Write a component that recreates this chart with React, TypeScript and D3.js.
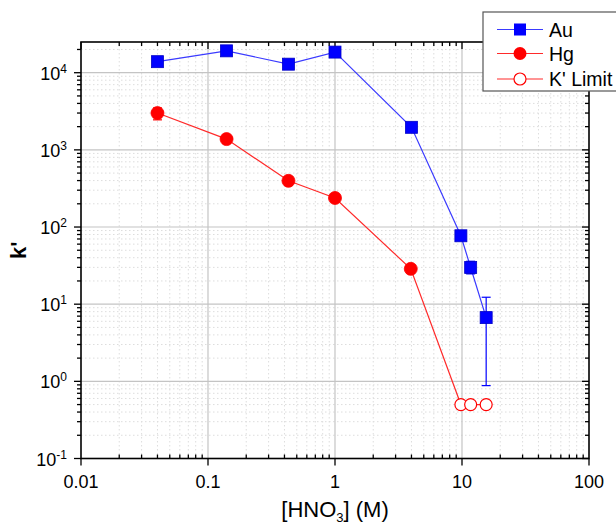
import React from "react";
import * as d3 from "d3";

// [HNO3] (M) concentrations
const auX = [0.04, 0.14, 0.43, 1.0, 4.0, 9.8, 11.7, 15.5];
const auK = [13900, 19200, 12900, 18500, 1960, 77, 29.9, 6.7];
// error bars (low, high) by index, only where visible
const auErr: [number, number, number][] = [
  [6, 24.7, 36],
  [7, 0.88, 12.3],
];

const hgX = [0.04, 0.14, 0.43, 1.0, 3.95];
const hgK = [3000, 1380, 397, 238, 28.7];
const hgErr: [number, number, number][] = [[0, 2450, 3500]];

const limX = [9.8, 11.7, 15.5];
const limK = [0.5, 0.5, 0.5];

const xTickVals = [0.01, 0.1, 1, 10, 100];
const xTickLabels = ["0.01", "0.1", "1", "10", "100"];
const yTickVals = [0.1, 1, 10, 100, 1000, 10000];
const yTickExp = ["-1", "0", "1", "2", "3", "4"];

const legendItems = ["Au", "Hg", "K' Limit"];

const W = 616;
const H = 526;
const margin = { top: 42, left: 81, right: 27, bottom: 67.5 };
const FONT = "Arial, 'Liberation Sans', sans-serif";
const BLUE = "#0000ff";
const BLUE_LINE = "#3a3aff";
const RED = "#ff0000";
const RED_LINE = "#ff2a2a";

export default function App() {
  const x = d3
    .scaleLog()
    .domain([0.01, 100])
    .range([margin.left, W - margin.right]);
  const y = d3
    .scaleLog()
    .domain([0.1, 25000])
    .range([H - margin.bottom, margin.top]);

  const x0 = margin.left;
  const x1 = W - margin.right;
  const y0 = H - margin.bottom;
  const y1 = margin.top;

  // minor ticks 2..9 within each decade
  const minors = (lo: number, hi: number) => {
    const out: number[] = [];
    for (let d = lo; d < hi; d *= 10) {
      for (let k = 2; k <= 9; k++) {
        const v = d * k;
        if (v < hi) out.push(v);
      }
    }
    return out;
  };
  const xMinor = minors(0.01, 100);
  const yMinor = minors(0.1, 25000);
  const yMajorGrid = yTickVals.filter((v) => v > 0.1);
  const xMajorGrid = xTickVals.filter((v) => v > 0.01 && v < 100);

  const line = d3
    .line<[number, number]>()
    .x((d) => x(d[0]))
    .y((d) => y(d[1]));

  const auPts: [number, number][] = auX.map((v, i) => [v, auK[i]]);
  const hgPts: [number, number][] = hgX.map((v, i) => [v, hgK[i]]);
  const limPts: [number, number][] = limX.map((v, i) => [v, limK[i]]);

  const sq = 12;
  const r = 6.5;

  const errBar = (xs: number[], e: [number, number, number][], color: string) =>
    e.map(([i, lo, hi]) => {
      const cx = x(xs[i]);
      return (
        <g key={"e" + i} stroke={color} strokeWidth={1.2}>
          <line x1={cx} x2={cx} y1={y(lo)} y2={y(hi)} />
          <line x1={cx - 4.5} x2={cx + 4.5} y1={y(lo)} y2={y(lo)} />
          <line x1={cx - 4.5} x2={cx + 4.5} y1={y(hi)} y2={y(hi)} />
        </g>
      );
    });

  const legX = 483;
  const legRows = [29.5, 53.5, 79];

  return (
    <svg
      width={W}
      height={H}
      style={{ position: "absolute", left: 0, top: 0, background: "#fff" }}
      fontFamily={FONT}
    >
      {/* minor grid */}
      <g stroke="#dddddd" strokeWidth={1} strokeDasharray="1.5,2.5">
        {xMinor.map((v) => (
          <line key={"xm" + v} x1={x(v)} x2={x(v)} y1={y0} y2={y1} />
        ))}
        {yMinor.map((v) => (
          <line key={"ym" + v} x1={x0} x2={x1} y1={y(v)} y2={y(v)} />
        ))}
      </g>
      {/* major grid */}
      <g stroke="#c4c4c4" strokeWidth={1.2}>
        {xMajorGrid.map((v) => (
          <line key={"xg" + v} x1={x(v)} x2={x(v)} y1={y0} y2={y1} />
        ))}
        {yMajorGrid.map((v) => (
          <line key={"yg" + v} x1={x0} x2={x1} y1={y(v)} y2={y(v)} />
        ))}
      </g>

      {/* frame */}
      <rect x={x0} y={y1} width={x1 - x0} height={y0 - y1} fill="none" stroke="#000" strokeWidth={1.6} />

      {/* ticks */}
      <g stroke="#000" strokeWidth={1.3}>
        {xTickVals.map((v) => (
          <g key={"xt" + v}>
            <line x1={x(v)} x2={x(v)} y1={y0} y2={y0 + 7} />
            <line x1={x(v)} x2={x(v)} y1={y1} y2={y1 + 7} />
          </g>
        ))}
        {xMinor.map((v) => (
          <g key={"xmt" + v}>
            <line x1={x(v)} x2={x(v)} y1={y0} y2={y0 - 4} />
            <line x1={x(v)} x2={x(v)} y1={y1} y2={y1 + 4} />
          </g>
        ))}
        {yTickVals.map((v) => (
          <g key={"yt" + v}>
            <line x1={x0 - 7} x2={x0} y1={y(v)} y2={y(v)} />
            <line x1={x1 - 7} x2={x1} y1={y(v)} y2={y(v)} />
          </g>
        ))}
        {yMinor.map((v) => (
          <g key={"ymt" + v}>
            <line x1={x0 - 4} x2={x0} y1={y(v)} y2={y(v)} />
            <line x1={x1 - 4} x2={x1} y1={y(v)} y2={y(v)} />
          </g>
        ))}
      </g>

      {/* tick labels */}
      <g fontSize={18} fill="#000">
        {xTickVals.map((v, i) => (
          <text key={"xl" + v} x={x(v)} y={y0 + 29} textAnchor="middle">
            {xTickLabels[i]}
          </text>
        ))}
        {yTickVals.map((v, i) => (
          <text key={"yl" + v} x={x0 - 14} y={y(v) + 7} textAnchor="end">
            10
            <tspan fontSize={12} dy={-7}>
              {yTickExp[i]}
            </tspan>
          </text>
        ))}
      </g>

      {/* axis titles */}
      <text x={(x0 + x1) / 2} y={517} textAnchor="middle" fontSize={22}>
        [HNO
        <tspan fontSize={13} dy={5}>3</tspan>
        <tspan dy={-5}>] (M)</tspan>
      </text>
      <text
        transform={`translate(26,${(y0 + y1) / 2}) rotate(-90)`}
        textAnchor="middle"
        fontSize={22}
        fontWeight="bold"
      >
        k'
      </text>

      {/* series */}
      <path d={line(auPts) || ""} fill="none" stroke={BLUE_LINE} strokeWidth={1.2} />
      <path d={line(hgPts.concat(limPts)) || ""} fill="none" stroke={RED_LINE} strokeWidth={1.2} />
      {errBar(auX, auErr, BLUE)}
      {errBar(hgX, hgErr, RED)}
      {auPts.map((d, i) => (
        <rect
          key={"au" + i}
          x={x(d[0]) - sq / 2}
          y={y(d[1]) - sq / 2}
          width={sq}
          height={sq}
          fill={BLUE}
          stroke="#0000c8"
          strokeWidth={0.8}
        />
      ))}
      {hgPts.map((d, i) => (
        <circle key={"hg" + i} cx={x(d[0])} cy={y(d[1])} r={r} fill={RED} stroke={RED} strokeWidth={0.8} />
      ))}
      {limPts.map((d, i) => (
        <circle key={"lim" + i} cx={x(d[0])} cy={y(d[1])} r={r - 0.5} fill="#fff" stroke={RED} strokeWidth={1.2} />
      ))}

      {/* legend */}
      <rect x={legX} y={12} width={150} height={79} fill="#fff" stroke="#555" strokeWidth={1.2} />
      {legendItems.map((name, i) => {
        const cy = legRows[i];
        const color = i === 0 ? BLUE : RED;
        const lc = i === 0 ? BLUE_LINE : RED_LINE;
        return (
          <g key={name}>
            <line x1={497} x2={543} y1={cy} y2={cy} stroke={lc} strokeWidth={1.2} />
            {i === 0 && <rect x={520 - sq / 2} y={cy - sq / 2} width={sq} height={sq} fill={BLUE} />}
            {i === 1 && <circle cx={520} cy={cy} r={r} fill={RED} />}
            {i === 2 && <circle cx={520} cy={cy} r={r - 0.5} fill="#fff" stroke={color} strokeWidth={1.2} />}
            <text x={549} y={cy + 7} fontSize={19.5}>
              {name}
            </text>
          </g>
        );
      })}
    </svg>
  );
}
